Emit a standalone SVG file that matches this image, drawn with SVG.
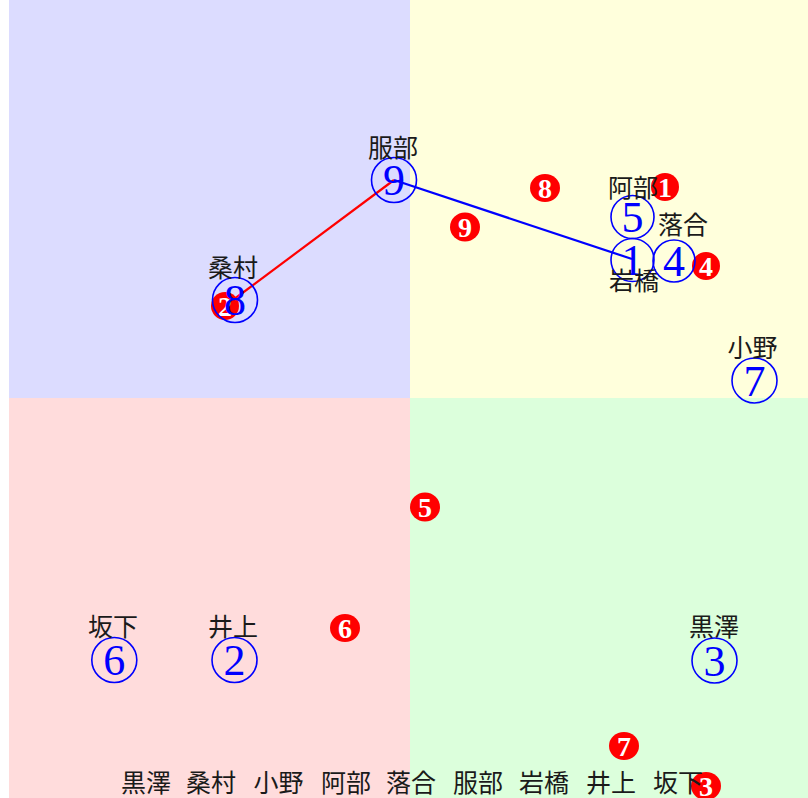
<svg xmlns="http://www.w3.org/2000/svg" width="808" height="798" viewBox="0 0 808 798">
<style>
.q{stroke:none}
.ring{fill:none;stroke:#0000ff;stroke-width:1.6}
.num{font-family:"Liberation Serif","DejaVu Serif",serif;font-size:44px;fill:#0000ff;text-anchor:middle}
.lab{font-family:"Noto Sans CJK JP","Noto Sans CJK SC",sans-serif;font-size:25px;fill:#1a1a1a;text-anchor:middle}
.dot{fill:#ff0000}
.dnum{font-family:"Liberation Serif","DejaVu Serif",serif;font-size:28px;font-weight:bold;fill:#ffffff;text-anchor:middle}
.edge{fill:none;stroke-width:2.2}
</style>
<rect width="808" height="798" fill="#ffffff"/>
<g id="quadrants">
<rect class="q" x="9" y="0" width="401" height="398" fill="#dcdcff"/>
<rect class="q" x="410" y="0" width="398" height="398" fill="#ffffdc"/>
<rect class="q" x="9" y="398" width="401" height="400" fill="#ffdcdc"/>
<rect class="q" x="410" y="398" width="398" height="400" fill="#dcffdc"/>
</g>
<g id="markers">
<g id="m1"><ellipse class="dot" cx="665" cy="187" rx="14" ry="14"/><text class="dnum" x="665" y="196.5">1</text></g>
<g id="m2"><ellipse class="dot" cx="225" cy="306" rx="14" ry="14"/><text class="dnum" x="225" y="315.5">2</text></g>
<g id="m3"><ellipse class="dot" cx="706" cy="786" rx="15" ry="14"/><text class="dnum" x="706" y="795.5">3</text></g>
<g id="m4"><ellipse class="dot" cx="706" cy="266" rx="14" ry="14"/><text class="dnum" x="706" y="275.5">4</text></g>
<g id="m5"><ellipse class="dot" cx="425" cy="507" rx="15" ry="14.5"/><text class="dnum" x="425" y="516.5">5</text></g>
<g id="m6"><ellipse class="dot" cx="345" cy="628" rx="15" ry="14"/><text class="dnum" x="345" y="637.5">6</text></g>
<g id="m7"><ellipse class="dot" cx="624" cy="746" rx="15" ry="14"/><text class="dnum" x="624" y="755.5">7</text></g>
<g id="m8"><ellipse class="dot" cx="545" cy="188" rx="15" ry="14"/><text class="dnum" x="545" y="197.5">8</text></g>
<g id="m9"><ellipse class="dot" cx="465" cy="227" rx="15" ry="14.5"/><text class="dnum" x="465" y="236.5">9</text></g>
</g>
<g id="connectors">
<line class="edge" x1="233" y1="300" x2="394" y2="180" stroke="#ff0000"/>
<line class="edge" x1="394" y1="180" x2="632" y2="259" stroke="#0000ff"/>
</g>
<g id="node9"><circle class="ring" cx="394" cy="180" r="22.5"/><text class="num" x="394" y="195">9</text><text class="lab" x="393" y="157">服部</text></g>
<g id="node8"><circle class="ring" cx="235" cy="300" r="22.5"/><text class="num" x="235" y="315">8</text><text class="lab" x="233" y="277">桑村</text></g>
<g id="node5"><circle class="ring" cx="632.5" cy="217" r="21.5"/><text class="num" x="632.5" y="232">5</text><text class="lab" x="633" y="197">阿部</text></g>
<g id="node1"><circle class="ring" cx="632.5" cy="260" r="21.5"/><text class="num" x="632.5" y="275">1</text><text class="lab" x="634" y="290">岩橋</text></g>
<g id="node4"><circle class="ring" cx="674" cy="261" r="21"/><text class="num" x="674" y="276">4</text><text class="lab" x="683" y="234">落合</text></g>
<g id="node7"><circle class="ring" cx="754.5" cy="380.5" r="22.5"/><text class="num" x="754.5" y="395.5">7</text><text class="lab" x="752.5" y="357">小野</text></g>
<g id="node3"><circle class="ring" cx="714.5" cy="660.5" r="22.5"/><text class="num" x="714.5" y="675.5">3</text><text class="lab" x="714" y="636">黒澤</text></g>
<g id="node6"><circle class="ring" cx="114.3" cy="660" r="22.5"/><text class="num" x="114.3" y="675">6</text><text class="lab" x="113" y="636">坂下</text></g>
<g id="node2"><circle class="ring" cx="234.5" cy="660" r="22.5"/><text class="num" x="234.5" y="675">2</text><text class="lab" x="233" y="636">井上</text></g>
<g id="legend">
<text class="lab" x="146" y="792">黒澤</text>
<text class="lab" x="211" y="792">桑村</text>
<text class="lab" x="278.5" y="792">小野</text>
<text class="lab" x="346" y="792">阿部</text>
<text class="lab" x="411" y="792">落合</text>
<text class="lab" x="478" y="792">服部</text>
<text class="lab" x="544" y="792">岩橋</text>
<text class="lab" x="611" y="792">井上</text>
<text class="lab" x="678" y="792">坂下</text>
</g>
</svg>
